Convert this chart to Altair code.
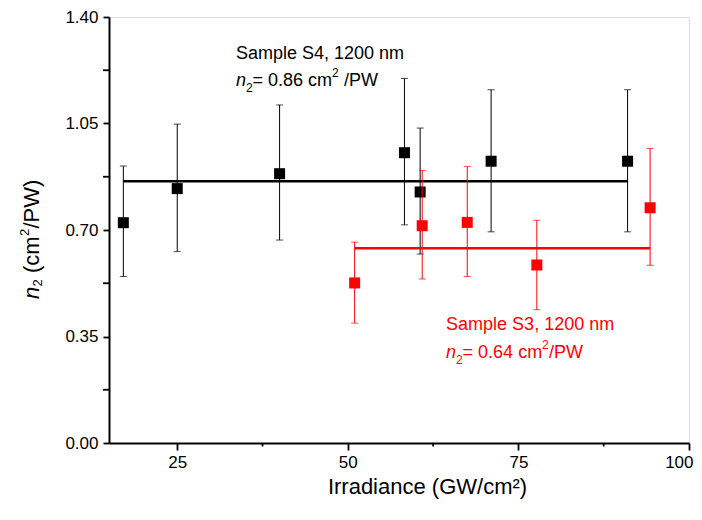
import altair as alt
import pandas as pd

# ---- data ----
black_x = [17.1, 25.0, 40.0, 58.3, 60.6, 71.0, 91.0]
black_y = [0.724, 0.836, 0.885, 0.954, 0.825, 0.926, 0.926]
black_lo = [0.547, 0.629, 0.667, 0.717, 0.621, 0.694, 0.694]
black_hi = [0.910, 1.048, 1.111, 1.198, 1.035, 1.161, 1.161]

red_x = [51.0, 60.9, 67.5, 77.7, 94.3]
red_y = [0.526, 0.714, 0.725, 0.585, 0.773]
red_lo = [0.394, 0.539, 0.547, 0.438, 0.584]
red_hi = [0.660, 0.896, 0.909, 0.732, 0.968]

fit_x_start = [17.1, 51.0]
fit_x_end = [91.0, 94.3]
fit_y = [0.86, 0.64]
fit_color = ["#000000", "#ff0000"]

x_ticks = [25, 50, 75, 100]
x_minor = [37.5, 62.5, 87.5]
y_ticks = [0.0, 0.35, 0.70, 1.05, 1.40]
y_minor = [0.175, 0.525, 0.875, 1.225]

FONT = "Liberation Sans"
W, H = 580, 426

xscale = alt.Scale(domain=[15, 100], nice=False, zero=False)
yscale = alt.Scale(domain=[0, 1.4], nice=False, zero=True)
xaxis = alt.Axis(values=x_ticks, title="Irradiance (GW/cm²)", grid=False,
                 tickSize=7, tickWidth=1.8, tickColor="black", domainColor="black",
                 domainWidth=2, labelFontSize=17, labelFont=FONT, labelColor="black",
                 labelPadding=4, labelFlush=True, labelFlushOffset=4,
                 titleFont=FONT, titleFontSize=22, titleFontWeight="normal",
                 titleColor="black", titleX=318, titleY=50, titleAlign="center",
                 titleBaseline="alphabetic", titleAnchor="start")
yaxis = alt.Axis(values=y_ticks, format=".2f", title=None, grid=False,
                 tickSize=6, tickWidth=1.8, tickColor="black", domainColor="black",
                 domainWidth=2, labelFontSize=17, labelFont=FONT, labelColor="black",
                 labelPadding=5)


def X(f):
    return alt.X(f, type="quantitative", scale=xscale, axis=xaxis)


def Y(f):
    return alt.Y(f, type="quantitative", scale=yscale, axis=yaxis)


def series(xs, ys, lo, hi, color):
    df = pd.DataFrame({"x": xs, "y": ys, "lo": lo, "hi": hi})
    base = alt.Chart(df)
    bars = base.mark_rule(color=color, strokeWidth=1).encode(x=X("x"), y=Y("lo"), y2="hi")
    cap_lo = base.mark_tick(color=color, orient="horizontal", size=7, thickness=1).encode(x=X("x"), y=Y("lo"))
    cap_hi = base.mark_tick(color=color, orient="horizontal", size=7, thickness=1).encode(x=X("x"), y=Y("hi"))
    pts = base.mark_square(color=color, size=121, opacity=1).encode(x=X("x"), y=Y("y"))
    return [bars, cap_lo, cap_hi, pts]


def fit_line(i):
    df = pd.DataFrame({"x": [fit_x_start[i]], "x2": [fit_x_end[i]], "y": [fit_y[i]]})
    return alt.Chart(df).mark_rule(color=fit_color[i], strokeWidth=2.4).encode(
        x=X("x"), x2="x2", y=Y("y"))


def txt(x, y, s, color, size=18, italic=False, dx=0, dy=0):
    df = pd.DataFrame({"x": [x], "y": [y], "t": [s]})
    return alt.Chart(df).mark_text(
        align="left", baseline="middle", font=FONT, fontSize=size,
        fontStyle="italic" if italic else "normal", color=color, dx=dx, dy=dy
    ).encode(x=X("x"), y=Y("y"), text="t:N")


def n2_label(x, y, value_text, tail, tail_dx, color):
    return [
        txt(x, y, "n", color, italic=True),
        txt(x, y, "2", color, size=12, dx=10, dy=7),
        txt(x, y, value_text, color, dx=16.5),
        txt(x, y, "2", color, size=12, dx=96, dy=-8),
        txt(x, y, tail, color, dx=tail_dx),
    ]


def vtxt(px, py, s, size=22, italic=False):
    df = pd.DataFrame({"t": [s]})
    return alt.Chart(df).mark_text(
        align="left", baseline="middle", angle=270, font=FONT, fontSize=size,
        fontStyle="italic" if italic else "normal", color="black"
    ).encode(x=alt.value(px), y=alt.value(py), text="t:N")


minor_x = alt.Chart(pd.DataFrame({"x": x_minor})).mark_rule(color="black", strokeWidth=1.8).encode(
    x=X("x"), y=alt.value(H), y2=alt.value(H + 3.5))
minor_y = alt.Chart(pd.DataFrame({"y": y_minor})).mark_rule(color="black", strokeWidth=1.8).encode(
    y=Y("y"), x=alt.value(0), x2=alt.value(-6))

# y-axis title pieces: n2 (cm2/PW), rotated
ty0 = 282
tx = -77
ytitle = [
    vtxt(tx, ty0, "n", italic=True),
    vtxt(tx + 6, ty0 - 12.5, "2", size=13),
    vtxt(tx, ty0 - 26, "(cm"),
    vtxt(tx - 7, ty0 - 63, "2", size=13),
    vtxt(tx, ty0 - 70.5, "/PW)"),
]

layers = [minor_x, minor_y]
layers += series(black_x, black_y, black_lo, black_hi, "#000000")
layers.append(fit_line(0))
layers += series(red_x, red_y, red_lo, red_hi, "#ff0000")
layers.append(fit_line(1))
layers.append(txt(33.6, 1.278, "Sample S4, 1200 nm", "#000000"))
layers += n2_label(33.6, 1.19, "= 0.86 cm", "/PW", 108, "#000000")
layers.append(txt(64.4, 0.388, "Sample S3, 1200 nm", "#ff0000"))
layers += n2_label(64.4, 0.296, "= 0.64 cm", "/PW", 103, "#ff0000")
layers += ytitle

chart = alt.layer(*layers).properties(
    width=W, height=H,
    autosize=alt.AutoSizeParams(type="none"),
    padding={"left": 101, "top": 9, "right": 5, "bottom": 65},
).configure_view(stroke=None).configure(background="white")

chart.save("out.html", embed_options={"renderer": "svg", "actions": False})
